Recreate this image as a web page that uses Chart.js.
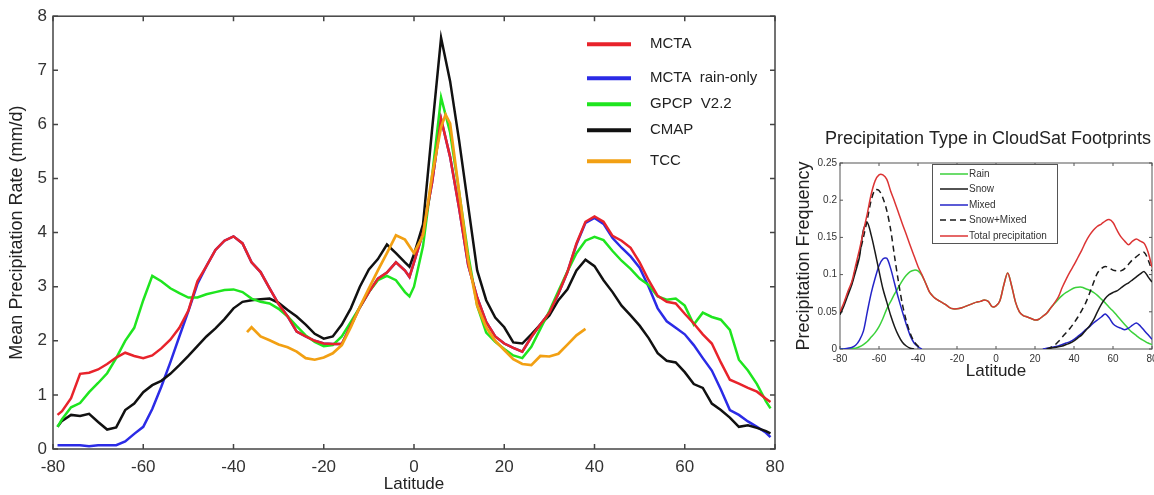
<!DOCTYPE html>
<html>
<head>
<meta charset="utf-8">
<title>Mean precipitation rate and precipitation type by latitude</title>
<script src="https://cdn.jsdelivr.net/npm/chart.js@4.4.0/dist/chart.umd.min.js"></script>
<style>
  body { margin: 0; background: #fff; }
  #page { position: relative; width: 1154px; height: 495px; overflow: hidden; }
  #rateChart { position: absolute; left: 0; top: 0; }
  #typeChart { position: absolute; left: 790px; top: 110px; }
</style>
</head>
<body>
<div id="page">
  <canvas id="rateChart" width="790" height="495"></canvas>
  <canvas id="typeChart" width="364" height="280"></canvas>
</div>
<script>
// ---- left chart: mean precipitation rate (mm/d) ----
const latGrid = [-79, -78, -76, -74, -72, -70, -68, -66, -64, -62, -60, -58, -56, -54, -52, -50, -48, -46, -44, -42,
  -40, -38, -36, -34, -32, -30, -28, -26, -24, -22, -20, -18, -16, -14, -12, -10, -8, -6, -4, -2, -1,
  0, 2, 4, 6, 8, 10, 12, 14, 16, 18, 20, 22, 24, 26, 28, 30, 32, 34, 36, 38,
  40, 42, 44, 46, 48, 50, 52, 54, 56, 58, 60, 62, 64, 66, 68, 70, 72, 74, 76, 78, 79];

const mcta = [0.63, 0.70, 0.94, 1.39, 1.41, 1.47, 1.57, 1.69, 1.78, 1.72, 1.68, 1.73, 1.86, 2.02, 2.24, 2.56, 3.10, 3.38, 3.68, 3.85,
  3.93, 3.80, 3.45, 3.27, 2.97, 2.68, 2.45, 2.17, 2.08, 2.00, 1.95, 1.94, 1.94, 2.28, 2.62, 2.90, 3.15, 3.26, 3.45, 3.30, 3.18,
  3.45, 4.00, 4.92, 6.10, 5.40, 4.45, 3.40, 2.80, 2.35, 2.08, 1.95, 1.87, 1.80, 2.07, 2.30, 2.52, 2.87, 3.27, 3.80, 4.20,
  4.30, 4.20, 3.94, 3.85, 3.72, 3.45, 3.12, 2.83, 2.72, 2.69, 2.50, 2.32, 2.12, 1.95, 1.60, 1.28, 1.21, 1.13, 1.06, 0.93, 0.87];

const mctaRainOnly = [0.07, 0.07, 0.07, 0.07, 0.05, 0.07, 0.07, 0.07, 0.14, 0.28, 0.41, 0.74, 1.15, 1.60, 2.08, 2.55, 3.05, 3.38, 3.68, 3.85,
  3.93, 3.80, 3.45, 3.27, 2.97, 2.68, 2.45, 2.17, 2.08, 2.00, 1.95, 1.94, 1.94, 2.28, 2.62, 2.90, 3.15, 3.26, 3.45, 3.30, 3.18,
  3.45, 4.00, 4.92, 6.10, 5.40, 4.45, 3.40, 2.80, 2.35, 2.08, 1.95, 1.87, 1.80, 2.07, 2.30, 2.52, 2.87, 3.27, 3.78, 4.18,
  4.27, 4.16, 3.90, 3.72, 3.56, 3.35, 3.00, 2.60, 2.36, 2.24, 2.12, 1.92, 1.68, 1.45, 1.10, 0.72, 0.63, 0.51, 0.41, 0.30, 0.22];

const gpcp = [0.41, 0.55, 0.77, 0.85, 1.05, 1.22, 1.40, 1.68, 2.00, 2.24, 2.75, 3.20, 3.10, 2.97, 2.88, 2.80, 2.80, 2.86, 2.90, 2.94,
  2.95, 2.90, 2.78, 2.72, 2.69, 2.59, 2.45, 2.27, 2.10, 1.98, 1.90, 1.92, 2.08, 2.35, 2.62, 2.90, 3.12, 3.20, 3.12, 2.90, 2.82,
  3.00, 3.75, 5.04, 6.50, 5.85, 4.75, 3.60, 2.65, 2.15, 1.98, 1.85, 1.73, 1.68, 1.89, 2.22, 2.55, 2.92, 3.28, 3.62, 3.85,
  3.92, 3.86, 3.66, 3.48, 3.33, 3.15, 3.03, 2.82, 2.76, 2.78, 2.65, 2.30, 2.52, 2.44, 2.39, 2.20, 1.65, 1.45, 1.20, 0.88, 0.75];

const cmap = [0.41, 0.52, 0.63, 0.61, 0.65, 0.50, 0.36, 0.40, 0.72, 0.84, 1.05, 1.18, 1.26, 1.39, 1.55, 1.72, 1.90, 2.08, 2.23, 2.40,
  2.60, 2.72, 2.75, 2.77, 2.78, 2.70, 2.57, 2.45, 2.30, 2.13, 2.04, 2.08, 2.30, 2.60, 3.00, 3.32, 3.51, 3.78, 3.62, 3.45, 3.37,
  3.60, 4.15, 5.90, 7.60, 6.80, 5.70, 4.50, 3.30, 2.75, 2.43, 2.25, 1.97, 1.95, 2.12, 2.30, 2.47, 2.75, 2.95, 3.30, 3.50,
  3.38, 3.12, 2.90, 2.65, 2.47, 2.28, 2.05, 1.77, 1.63, 1.60, 1.42, 1.20, 1.13, 0.84, 0.72, 0.58, 0.41, 0.44, 0.39, 0.33, 0.29];

const tccLat = [-37, -36, -34, -32, -30, -28, -26, -24, -22, -20, -18, -16, -14, -12, -10, -8, -6, -4, -2,
  0, 2, 4, 6, 7, 8, 10, 12, 14, 16, 18, 20, 22, 24, 26, 28, 30, 32, 34, 36, 38];
const tcc = [2.16, 2.25, 2.08, 2.01, 1.93, 1.88, 1.80, 1.68, 1.65, 1.69, 1.77, 1.92, 2.25, 2.63, 2.97, 3.30, 3.62, 3.95, 3.87,
  3.62, 3.95, 5.05, 5.95, 6.18, 6.02, 4.75, 3.50, 2.65, 2.25, 2.00, 1.83, 1.66, 1.57, 1.55, 1.72, 1.71, 1.76, 1.93, 2.10, 2.22];

const latTicks = [-80, -60, -40, -20, 0, 20, 40, 60, 80];
const latTickLabels = ['-80', '-60', '-40', '-20', '0', '20', '40', '60', '80'];
const rateTicks = [0, 1, 2, 3, 4, 5, 6, 7, 8];
const rateTickLabels = ['0', '1', '2', '3', '4', '5', '6', '7', '8'];

// ---- right chart: precipitation type frequency ----
const latRight = [-80, -78, -76, -74, -72, -70, -68, -66, -64, -62, -60, -58, -56, -54, -52, -50, -48, -46, -44, -42,
  -40, -38, -36, -34, -32, -30, -28, -26, -24, -22, -20, -18, -16, -14, -12, -10, -8, -6, -4, -2,
  0, 2, 4, 6, 8, 10, 12, 14, 16, 18, 20, 22, 24, 26, 28, 30, 32, 34, 36, 38,
  40, 42, 44, 46, 48, 50, 52, 54, 56, 58, 60, 62, 64, 66, 68, 70, 72, 74, 76, 78, 80];

const rainFreq = [0.000, 0.000, 0.000, 0.001, 0.001, 0.003, 0.006, 0.010, 0.016, 0.022, 0.030, 0.041, 0.054, 0.064, 0.074, 0.083, 0.092, 0.099, 0.104, 0.106,
  0.105, 0.099, 0.088, 0.076, 0.070, 0.066, 0.063, 0.060, 0.056, 0.054, 0.054, 0.055, 0.057, 0.059, 0.061, 0.063, 0.064, 0.066, 0.064, 0.057,
  0.058, 0.065, 0.086, 0.102, 0.085, 0.063, 0.050, 0.045, 0.043, 0.041, 0.039, 0.040, 0.044, 0.048, 0.055, 0.061, 0.067, 0.072, 0.076, 0.079,
  0.082, 0.083, 0.083, 0.081, 0.079, 0.076, 0.072, 0.067, 0.062, 0.056, 0.051, 0.045, 0.039, 0.033, 0.027, 0.022, 0.018, 0.014, 0.011, 0.008, 0.006];

const snowFreq = [0.046, 0.058, 0.072, 0.086, 0.104, 0.124, 0.160, 0.170, 0.153, 0.130, 0.105, 0.081, 0.063, 0.045, 0.030, 0.018, 0.009, 0.004, 0.001, 0.000,
  null, null, null, null, null, null, null, null, null, null, null, null, null, null, null, null, null, null, null, null,
  null, null, null, null, null, null, null, null, null, null, null, null, null, 0.000, 0.001, 0.002, 0.003, 0.004, 0.006, 0.008,
  0.011, 0.015, 0.019, 0.025, 0.031, 0.039, 0.050, 0.060, 0.068, 0.073, 0.076, 0.078, 0.082, 0.086, 0.089, 0.093, 0.097, 0.101, 0.104, 0.097, 0.090];

const mixedFreq = [0.000, 0.000, 0.001, 0.002, 0.005, 0.012, 0.024, 0.050, 0.075, 0.095, 0.112, 0.121, 0.122, 0.108, 0.088, 0.068, 0.050, 0.033, 0.018, 0.008,
  0.003, 0.000, null, null, null, null, null, null, null, null, null, null, null, null, null, null, null, null, null, null,
  null, null, null, null, null, null, null, null, null, null, null, null, 0.000, 0.001, 0.002, 0.003, 0.004, 0.006, 0.008, 0.010,
  0.013, 0.017, 0.021, 0.026, 0.030, 0.035, 0.039, 0.043, 0.047, 0.042, 0.034, 0.030, 0.028, 0.026, 0.028, 0.032, 0.035, 0.031, 0.025, 0.019, 0.013];

const snowMixedFreq = [0.048, 0.060, 0.075, 0.088, 0.108, 0.128, 0.150, 0.174, 0.200, 0.214, 0.213, 0.203, 0.186, 0.160, 0.124, 0.090, 0.060, 0.038, 0.021, 0.010,
  0.004, 0.001, null, null, null, null, null, null, null, null, null, null, null, null, null, null, null, null, null, null,
  null, null, null, null, null, null, null, null, null, null, null, null, null, 0.000, 0.002, 0.005, 0.010, 0.016, 0.022, 0.028,
  0.035, 0.043, 0.052, 0.062, 0.075, 0.089, 0.102, 0.108, 0.111, 0.109, 0.106, 0.105, 0.105, 0.108, 0.114, 0.120, 0.124, 0.128, 0.130, 0.120, 0.105];

const totalFreq = [0.050, 0.062, 0.077, 0.090, 0.112, 0.134, 0.158, 0.182, 0.208, 0.226, 0.234, 0.234, 0.228, 0.212, 0.198, 0.183, 0.168, 0.154, 0.139, 0.125,
  0.111, 0.100, 0.088, 0.076, 0.070, 0.066, 0.063, 0.060, 0.056, 0.054, 0.054, 0.055, 0.057, 0.059, 0.061, 0.063, 0.064, 0.066, 0.064, 0.057,
  0.058, 0.065, 0.086, 0.102, 0.085, 0.063, 0.050, 0.045, 0.043, 0.041, 0.039, 0.040, 0.044, 0.048, 0.055, 0.062, 0.070, 0.083, 0.094, 0.104,
  0.113, 0.123, 0.133, 0.144, 0.153, 0.160, 0.165, 0.168, 0.172, 0.174, 0.170, 0.160, 0.151, 0.145, 0.140, 0.145, 0.148, 0.145, 0.142, 0.130, 0.110];

const freqTicks = [0, 0.05, 0.1, 0.15, 0.2, 0.25];
const freqTickLabels = ['0', '0.05', '0.1', '0.15', '0.2', '0.25'];

const FONT = '"Liberation Sans", Arial, sans-serif';

function points(xs, ys) {
  return xs.map((x, i) => ({ x: x, y: ys[i] }));
}

function fixedTicks(values) {
  return scale => { scale.ticks = values.map(v => ({ value: v })); };
}

// box round the plot with matlab style inward ticks on all 4 sides
const framePlugin = {
  id: 'frame',
  beforeDatasetsDraw(chart, args, opts) {
    const { ctx, chartArea: a, scales } = chart;
    ctx.save();
    ctx.strokeStyle = opts.color;
    ctx.lineWidth = opts.width;
    ctx.strokeRect(a.left, a.top, a.right - a.left, a.bottom - a.top);
    ctx.beginPath();
    scales.x.ticks.forEach(t => {
      const px = scales.x.getPixelForValue(t.value);
      ctx.moveTo(px, a.bottom); ctx.lineTo(px, a.bottom - opts.tick);
      ctx.moveTo(px, a.top); ctx.lineTo(px, a.top + opts.tick);
    });
    scales.y.ticks.forEach(t => {
      const py = scales.y.getPixelForValue(t.value);
      ctx.moveTo(a.left, py); ctx.lineTo(a.left + opts.tick, py);
      ctx.moveTo(a.right, py); ctx.lineTo(a.right - opts.tick, py);
    });
    ctx.stroke();
    ctx.restore();
  }
};

// legend drawn inside the plot area
const insideLegend = {
  id: 'insideLegend',
  afterDatasetsDraw(chart, args, opts) {
    const { ctx, chartArea: a } = chart;
    ctx.save();
    if (opts.box) {
      const b = opts.box;
      ctx.fillStyle = '#fff';
      ctx.fillRect(a.left + b.x, a.top + b.y, b.w, b.h);
      ctx.strokeStyle = b.color;
      ctx.lineWidth = 1;
      ctx.strokeRect(a.left + b.x + 0.5, a.top + b.y + 0.5, b.w, b.h);
    }
    ctx.font = opts.font;
    ctx.textBaseline = 'middle';
    chart.data.datasets.forEach((ds, i) => {
      const y = a.top + opts.rows[i];
      const x0 = a.left + opts.x;
      ctx.strokeStyle = ds.borderColor;
      ctx.lineWidth = opts.lineWidth;
      ctx.setLineDash(ds.borderDash || []);
      ctx.beginPath();
      ctx.moveTo(x0, y);
      ctx.lineTo(x0 + opts.lineLength, y);
      ctx.stroke();
      ctx.fillStyle = opts.color;
      ctx.fillText(ds.label, x0 + opts.lineLength + opts.gap, y);
    });
    if (opts.title) {
      ctx.font = opts.title.font;
      ctx.fillStyle = opts.title.color;
      ctx.textAlign = 'center';
      ctx.fillText(opts.title.text, a.left + opts.title.x, a.top + opts.title.y);
    }
    ctx.restore();
  }
};

function line(label, xs, ys, color, width, order, extra) {
  return Object.assign({
    label: label,
    data: points(xs, ys),
    borderColor: color,
    borderWidth: width,
    pointRadius: 0,
    fill: false,
    spanGaps: false,
    order: order
  }, extra || {});
}

const noGrid = { display: false, drawTicks: false, tickLength: 0 };

new Chart(document.getElementById('rateChart'), {
  type: 'line',
  data: {
    datasets: [
      line('MCTA', latGrid, mcta, '#e8232b', 2.5, 2),
      line('MCTA  rain-only', latGrid, mctaRainOnly, '#2b2be6', 2.5, 5),
      line('GPCP  V2.2', latGrid, gpcp, '#1fe51f', 2.5, 3),
      line('CMAP', latGrid, cmap, '#111111', 2.5, 4),
      line('TCC', tccLat, tcc, '#f2a013', 2.7, 1)
    ]
  },
  options: {
    responsive: false,
    animation: false,
    layout: { padding: { top: 15, right: 15, left: 0, bottom: 0 } },
    scales: {
      x: {
        type: 'linear', min: -80, max: 80,
        afterBuildTicks: fixedTicks(latTicks),
        afterFit: s => { s.height = 46; s.paddingLeft = 0; s.paddingRight = 0; },
        grid: noGrid,
        border: { display: false },
        ticks: { font: { family: FONT, size: 17 }, color: '#333', padding: 8, maxRotation: 0, autoSkip: false,
          callback: (v, i) => latTickLabels[i] },
        title: { display: true, text: 'Latitude', font: { family: FONT, size: 17 }, color: '#222', padding: { top: 0, bottom: 0 } }
      },
      y: {
        min: 0, max: 8,
        afterBuildTicks: fixedTicks(rateTicks),
        afterFit: s => { s.width = 53; },
        grid: noGrid,
        border: { display: false },
        ticks: { font: { family: FONT, size: 17 }, color: '#333', padding: 6,
          callback: (v, i) => rateTickLabels[i] },
        title: { display: true, text: 'Mean Precipitation Rate (mm/d)', font: { family: FONT, size: 18 }, color: '#222', padding: { top: 6, bottom: 0 } }
      }
    },
    plugins: {
      legend: { display: false },
      tooltip: { enabled: false },
      frame: { color: '#444', width: 1.5, tick: 5 },
      insideLegend: {
        x: 534, lineLength: 44, gap: 19, lineWidth: 4,
        rows: [28, 62, 88, 114, 145],
        font: '15px ' + FONT, color: '#222'
      }
    }
  },
  plugins: [framePlugin, insideLegend]
});

new Chart(document.getElementById('typeChart'), {
  type: 'line',
  data: {
    datasets: [
      line('Rain', latRight, rainFreq, '#3bd13b', 1.5, 5, { tension: 0.3 }),
      line('Snow', latRight, snowFreq, '#1a1a1a', 1.5, 3, { tension: 0.3 }),
      line('Mixed', latRight, mixedFreq, '#2424c8', 1.5, 4, { tension: 0.3 }),
      line('Snow+Mixed', latRight, snowMixedFreq, '#1a1a1a', 1.5, 2, { tension: 0.3, borderDash: [6, 4] }),
      line('Total precipitation', latRight, totalFreq, '#dc3434', 1.5, 1, { tension: 0.3 })
    ]
  },
  options: {
    responsive: false,
    animation: false,
    layout: { padding: { top: 53, right: 2, left: 0, bottom: 0 } },
    scales: {
      x: {
        type: 'linear', min: -80, max: 80,
        afterBuildTicks: fixedTicks(latTicks),
        afterFit: s => { s.height = 41; s.paddingLeft = 0; s.paddingRight = 0; },
        grid: noGrid,
        border: { display: false },
        ticks: { font: { family: FONT, size: 10 }, color: '#333', padding: 4, maxRotation: 0, autoSkip: false,
          callback: (v, i) => latTickLabels[i] },
        title: { display: true, text: 'Latitude', font: { family: FONT, size: 17 }, color: '#222', padding: { top: 0, bottom: 8 } }
      },
      y: {
        min: 0, max: 0.25,
        afterBuildTicks: fixedTicks(freqTicks),
        afterFit: s => { s.width = 50; },
        grid: noGrid,
        border: { display: false },
        ticks: { font: { family: FONT, size: 10 }, color: '#333', padding: 3,
          callback: (v, i) => freqTickLabels[i] },
        title: { display: true, text: 'Precipitation Frequency', font: { family: FONT, size: 18 }, color: '#222', padding: { top: 3, bottom: 0 } }
      }
    },
    plugins: {
      legend: { display: false },
      tooltip: { enabled: false },
      frame: { color: '#555', width: 1, tick: 3 },
      insideLegend: {
        x: 100, lineLength: 28, gap: 1, lineWidth: 1.5,
        rows: [11, 26, 42, 57, 73],
        font: '10px ' + FONT, color: '#333',
        box: { x: 92, y: 1, w: 125, h: 79, color: '#555' },
        title: { text: 'Precipitation Type in CloudSat Footprints', x: 148, y: -24, font: '18px ' + FONT, color: '#222' }
      }
    }
  },
  plugins: [framePlugin, insideLegend]
});
</script>
</body>
</html>
